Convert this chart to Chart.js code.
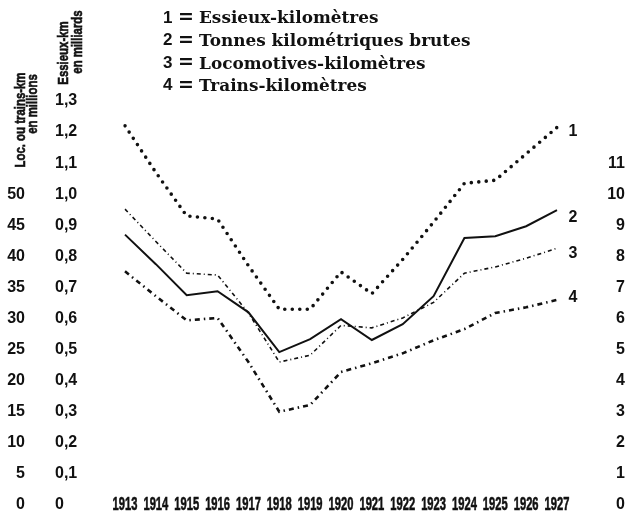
<!DOCTYPE html>
<html>
<head>
<meta charset="utf-8">
<script src="https://cdn.jsdelivr.net/npm/chart.js@4.4.0/dist/chart.umd.min.js"></script>
<style>
  html, body { margin: 0; padding: 0; background: #fff; }
</style>
</head>
<body>
<canvas id="chart" width="630" height="519"></canvas>
<script>
// years
let years = ["1913", "1914", "1915", "1916", "1917", "1918", "1919", "1920",
             "1921", "1922", "1923", "1924", "1925", "1926", "1927"];

// 1 = essieux-km (milliards, left inner axis)
let essieux = [1.22, 1.07, 0.93, 0.92, 0.77, 0.63, 0.63, 0.75, 0.68, 0.79, 0.91, 1.035, 1.045, 1.13, 1.215];
// 2 = tonnes km brutes (right axis)
let tonnes = [8.7, 7.75, 6.75, 6.88, 6.2, 4.92, 5.34, 5.98, 5.31, 5.82, 6.72, 8.59, 8.65, 8.97, 9.49];
// 3 = locomotives-km (millions, left outer axis)
let locos = [47.6, 42.4, 37.3, 37.0, 30.9, 23.0, 24.1, 28.9, 28.5, 30.1, 32.6, 37.3, 38.3, 39.7, 41.3];
// 4 = trains-km (millions, left outer axis)
let trains = [37.6, 33.6, 29.7, 30.1, 23.0, 15.0, 16.1, 21.4, 22.8, 24.4, 26.5, 28.3, 30.9, 31.8, 33.0];

let legendLines = ["Essieux-kilomètres", "Tonnes kilométriques brutes",
                   "Locomotives-kilomètres", "Trains-kilomètres"];
let seriesNums = ["1", "2", "3", "4"];

const sans = "'Liberation Sans', Arial, sans-serif";
const tickFont = { family: sans, size: 16, weight: "bold" };

// draw text squeezed horizontally (no condensed font installed)
function squeezed(c, t, x, y, rot, size, sx) {
    c.save();
    c.translate(x, y);
    if (rot) c.rotate(rot);
    c.scale(sx, 1);
    c.textAlign = "center";
    c.textBaseline = "middle";
    c.font = "bold " + size + "px " + sans;
    c.lineWidth = 0.6;
    c.strokeStyle = "#111";
    c.fillText(t, 0, 0);
    c.strokeText(t, 0, 0);
    c.restore();
}

// the label overflow padding is not wanted, the layout padding covers it
function fixPad(s) {
    s.paddingTop = 0;
    s.paddingBottom = 0;
}

// texts drawn on top: legend, axis titles, year labels, line numbers
const textPlugin = {
    id: "texts",
    afterDatasetsDraw(chart) {
        const c = chart.ctx;
        c.save();
        c.fillStyle = "#111";
        c.textBaseline = "middle";

        // legend
        c.font = "bold 20px 'DejaVu Serif', serif";
        let fit = 20 * 272 / c.measureText(legendLines[1]).width;
        legendLines.forEach((t, i) => {
            let y = 18 + i * 22.6;
            c.textAlign = "left";
            c.font = "bold 17px " + sans;
            c.fillText(seriesNums[i], 163, y);
            c.font = "bold 19px 'DejaVu Sans', sans-serif";
            c.fillText("=", 178, y);
            c.font = "bold " + fit.toFixed(1) + "px 'DejaVu Serif', serif";
            c.fillText(t, 199, y + 1);
        });

        // rotated axis titles
        squeezed(c, "Loc. ou trains-km", 21, 120, -Math.PI / 2, 15, 0.76);
        squeezed(c, "en millions", 33, 104, -Math.PI / 2, 15, 0.76);
        squeezed(c, "Essieux-km", 64, 53, -Math.PI / 2, 15, 0.76);
        squeezed(c, "en milliards", 78, 42, -Math.PI / 2, 15, 0.76);

        // year labels under the x scale positions
        const xs = chart.scales.x;
        const yBase = chart.scales.yE.getPixelForValue(0);
        xs.ticks.forEach((t, i) => {
            squeezed(c, xs.getLabelForValue(t.value), xs.getPixelForTick(i), yBase, 0, 18, 0.62);
        });

        // numbers at the end of each line
        let dy = [4, 8, 5, -2];
        c.font = "bold 16px " + sans;
        c.textAlign = "center";
        chart.data.datasets.forEach((ds, i) => {
            let pts = chart.getDatasetMeta(i).data;
            let p = pts[pts.length - 1];
            c.fillText(seriesNums[i], p.x + 16, p.y + dy[i]);
        });
        c.restore();
    }
};

let ctx = document.getElementById("chart").getContext("2d");

let chart = new Chart(ctx, {
    type: "line",
    data: {
        labels: years,
        datasets: [
            {
                label: legendLines[0],
                data: essieux,
                yAxisID: "yE",
                borderColor: "#111",
                borderWidth: 3.6,
                borderDash: [0, 7.5],
                borderCapStyle: "round"
            },
            {
                label: legendLines[1],
                data: tonnes,
                yAxisID: "yR",
                borderColor: "#111",
                borderWidth: 2
            },
            {
                label: legendLines[2],
                data: locos,
                yAxisID: "yL",
                borderColor: "#111",
                borderWidth: 1.6,
                borderDash: [4, 3, 1, 3]
            },
            {
                label: legendLines[3],
                data: trains,
                yAxisID: "yL",
                borderColor: "#111",
                borderWidth: 2.6,
                borderDash: [5, 4, 1.5, 4]
            }
        ]
    },
    options: {
        responsive: false,
        animation: false,
        elements: {
            point: { radius: 0 },
            line: { tension: 0, fill: false }
        },
        layout: { padding: { top: 101, right: 5, bottom: 14, left: 0 } },
        plugins: {
            legend: { display: false },
            tooltip: { enabled: false }
        },
        scales: {
            x: {
                type: "category",
                offset: false,
                grid: { display: false, drawTicks: false },
                border: { display: false },
                ticks: { display: false, autoSkip: false },
                afterFit: (s) => { s.height = 0; }
            },
            yL: {
                position: "left",
                weight: 2,
                min: 0,
                max: 65,
                grid: { display: false, drawTicks: false },
                border: { display: false },
                ticks: {
                    stepSize: 5,
                    autoSkip: false,
                    padding: 30,
                    color: "#111",
                    font: tickFont
                },
                afterBuildTicks: (s) => { s.ticks = s.ticks.filter(t => t.value <= 50); },
                afterFit: (s) => { s.width = 55; fixPad(s); }
            },
            yE: {
                position: "left",
                weight: 1,
                min: 0,
                max: 1.3,
                grid: { display: false, drawTicks: false },
                border: { display: false },
                ticks: {
                    stepSize: 0.1,
                    autoSkip: false,
                    crossAlign: "far",
                    color: "#111",
                    font: tickFont,
                    callback: (v) => v === 0 ? "0" : v.toFixed(1).replace(".", ",")
                },
                afterFit: (s) => { s.width = 70; fixPad(s); }
            },
            yR: {
                position: "right",
                min: 0,
                max: 13,
                grid: { display: false, drawTicks: false },
                border: { display: false },
                ticks: {
                    stepSize: 1,
                    autoSkip: false,
                    crossAlign: "far",
                    color: "#111",
                    font: tickFont
                },
                afterBuildTicks: (s) => { s.ticks = s.ticks.filter(t => t.value <= 11); },
                afterFit: (s) => { s.width = 68; fixPad(s); }
            }
        }
    },
    plugins: [textPlugin]
});
</script>
</body>
</html>
